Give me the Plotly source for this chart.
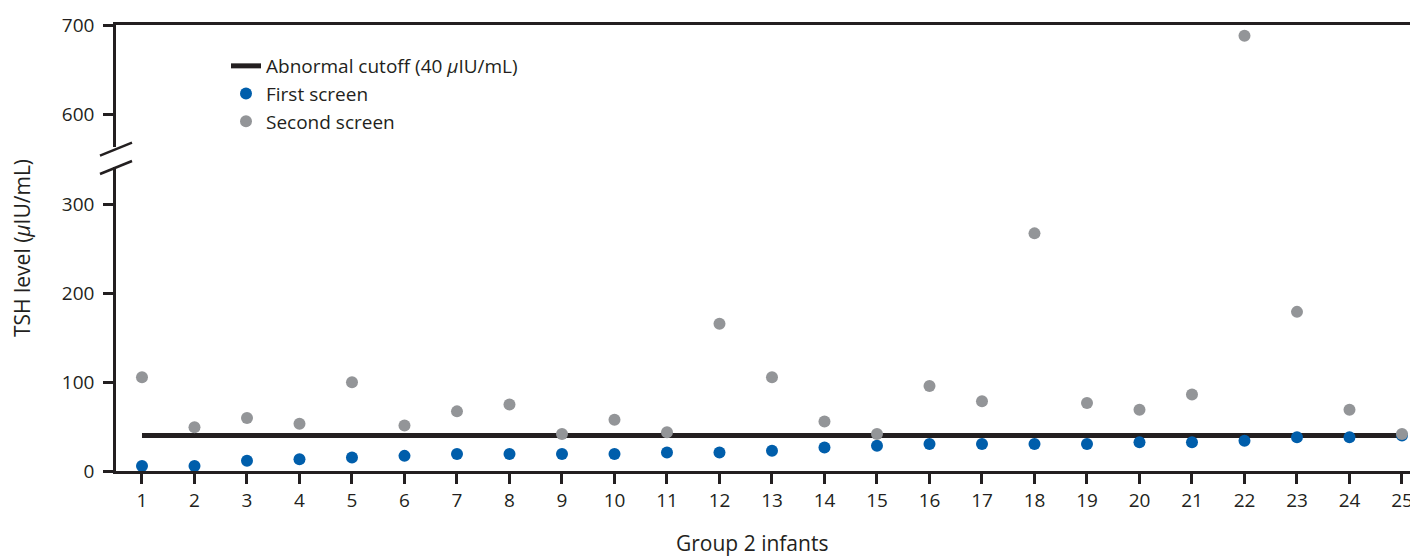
import plotly.graph_objects as go

infants = list(range(1, 26))
first_screen = [5.7, 5.7, 11.4, 13.3, 15.2, 17.0, 19.0, 19.0, 19.0, 19.0, 20.8, 20.8, 22.7,
                26.5, 28.4, 30.3, 30.3, 30.3, 30.3, 32.2, 32.2, 34.0, 37.9, 37.9, 39.8]
second_screen = [105.3, 49.2, 59.5, 53.0, 99.6, 51.0, 67.0, 74.6, 41.7, 57.6, 43.6, 165.5, 105.3,
                 55.7, 41.7, 95.5, 78.4, 267.0, 76.5, 68.9, 86.0, 688.0, 178.8, 68.9, 41.7]
cutoff_value = 40
cutoff_x = [1, 25]
low_ticks = [0, 100, 200, 300]
high_ticks = [600, 700]

INK = "#231f20"
BLUE = "#005eab"
GRAY = "#939598"
FONT = "Open Sans"

# page body has an 8px margin; work in screen pixels and subtract it
OFF = 8
W, H = 1418 - OFF, 559 - OFF
ML, MR, MT, MB = 108, 0, 17, 88
PW = W - ML - MR
PH = H - MT - MB
bottom_px = H - MB          # layout px of the x axis (screen 471)


def sx(px):
    """screen px x -> paper"""
    return (px - OFF - ML) / PW


def sy(py):
    """screen px y -> paper"""
    return (bottom_px - (py - OFF)) / PH


fig = go.Figure()
fig.add_trace(go.Scatter(x=cutoff_x, y=[cutoff_value] * len(cutoff_x), mode="lines",
                         line=dict(color=INK, width=5),
                         name="Abnormal cutoff (40 <i>μ</i>IU/mL)", xaxis="x", yaxis="y"))
fig.add_trace(go.Scatter(x=infants, y=first_screen, mode="markers",
                         marker=dict(color=BLUE, size=12), name="First screen",
                         xaxis="x", yaxis="y"))
fig.add_trace(go.Scatter(x=infants, y=second_screen, mode="markers",
                         marker=dict(color=GRAY, size=12), name="Second screen",
                         xaxis="x", yaxis="y"))
fig.add_trace(go.Scatter(x=infants, y=second_screen, mode="markers",
                         marker=dict(color=GRAY, size=12), name="Second screen",
                         showlegend=False, xaxis="x2", yaxis="y2"))

# broken axis geometry (screen px)
px_per_unit = 0.89
low_top_screen = 167
high_bot_screen = 147
low_dom_top = sy(low_top_screen)
high_dom_bot = sy(high_bot_screen)
low_max = (471 - low_top_screen) / px_per_unit
high_min = 700 - (high_bot_screen - 25) / px_per_unit

axis_common = dict(showline=True, linecolor=INK, linewidth=2.5, ticks="outside",
                   tickcolor=INK, tickwidth=2.5, ticklen=10, showgrid=False,
                   zeroline=False, tickfont=dict(family=FONT, size=19, color=INK))

fig.update_layout(
    width=W, height=H,
    margin=dict(l=ML, r=MR, t=MT, b=MB),
    plot_bgcolor="white", paper_bgcolor="white",
    font=dict(family=FONT, size=19, color=INK),
    xaxis=dict(range=[0.505, 25.305], tickvals=infants, anchor="y", **axis_common),
    xaxis2=dict(range=[0.505, 25.305], anchor="y2", side="top", matches="x",
                showline=True, linecolor=INK, linewidth=2.5, ticks="",
                showticklabels=False, showgrid=False, zeroline=False),
    yaxis=dict(domain=[0, low_dom_top], range=[0, low_max], tickvals=low_ticks,
               anchor="x", ticklabelstandoff=5, **axis_common),
    yaxis2=dict(domain=[high_dom_bot, 1], range=[high_min, 700], tickvals=high_ticks,
                anchor="x2", ticklabelstandoff=5, **axis_common),
    legend=dict(x=sx(226), y=sy(47), xanchor="left", yanchor="top",
                bgcolor="rgba(0,0,0,0)", font=dict(family=FONT, size=19, color=INK),
                tracegroupgap=0),
    showlegend=True,
)

# axis titles
fig.add_annotation(text="TSH level (<i>μ</i>IU/mL)", xref="paper", yref="paper",
                   x=sx(22), y=sy(248), xanchor="center", yanchor="middle",
                   textangle=-90, showarrow=False,
                   font=dict(family=FONT, size=21, color=INK))
fig.add_annotation(text="Group 2 infants", xref="paper", yref="paper",
                   x=sx(752), y=sy(558), xanchor="center", yanchor="bottom",
                   borderpad=0, showarrow=False,
                   font=dict(family=FONT, size=21, color=INK))

# axis break marks
for (lx, ly, rx, ry) in [(100, 155.7, 132, 142.7), (100, 174, 132, 161)]:
    fig.add_shape(type="line", xref="paper", yref="paper",
                  x0=sx(lx), y0=sy(ly), x1=sx(rx), y1=sy(ry),
                  line=dict(color=INK, width=2.5))

fig.write_html("out.html")
